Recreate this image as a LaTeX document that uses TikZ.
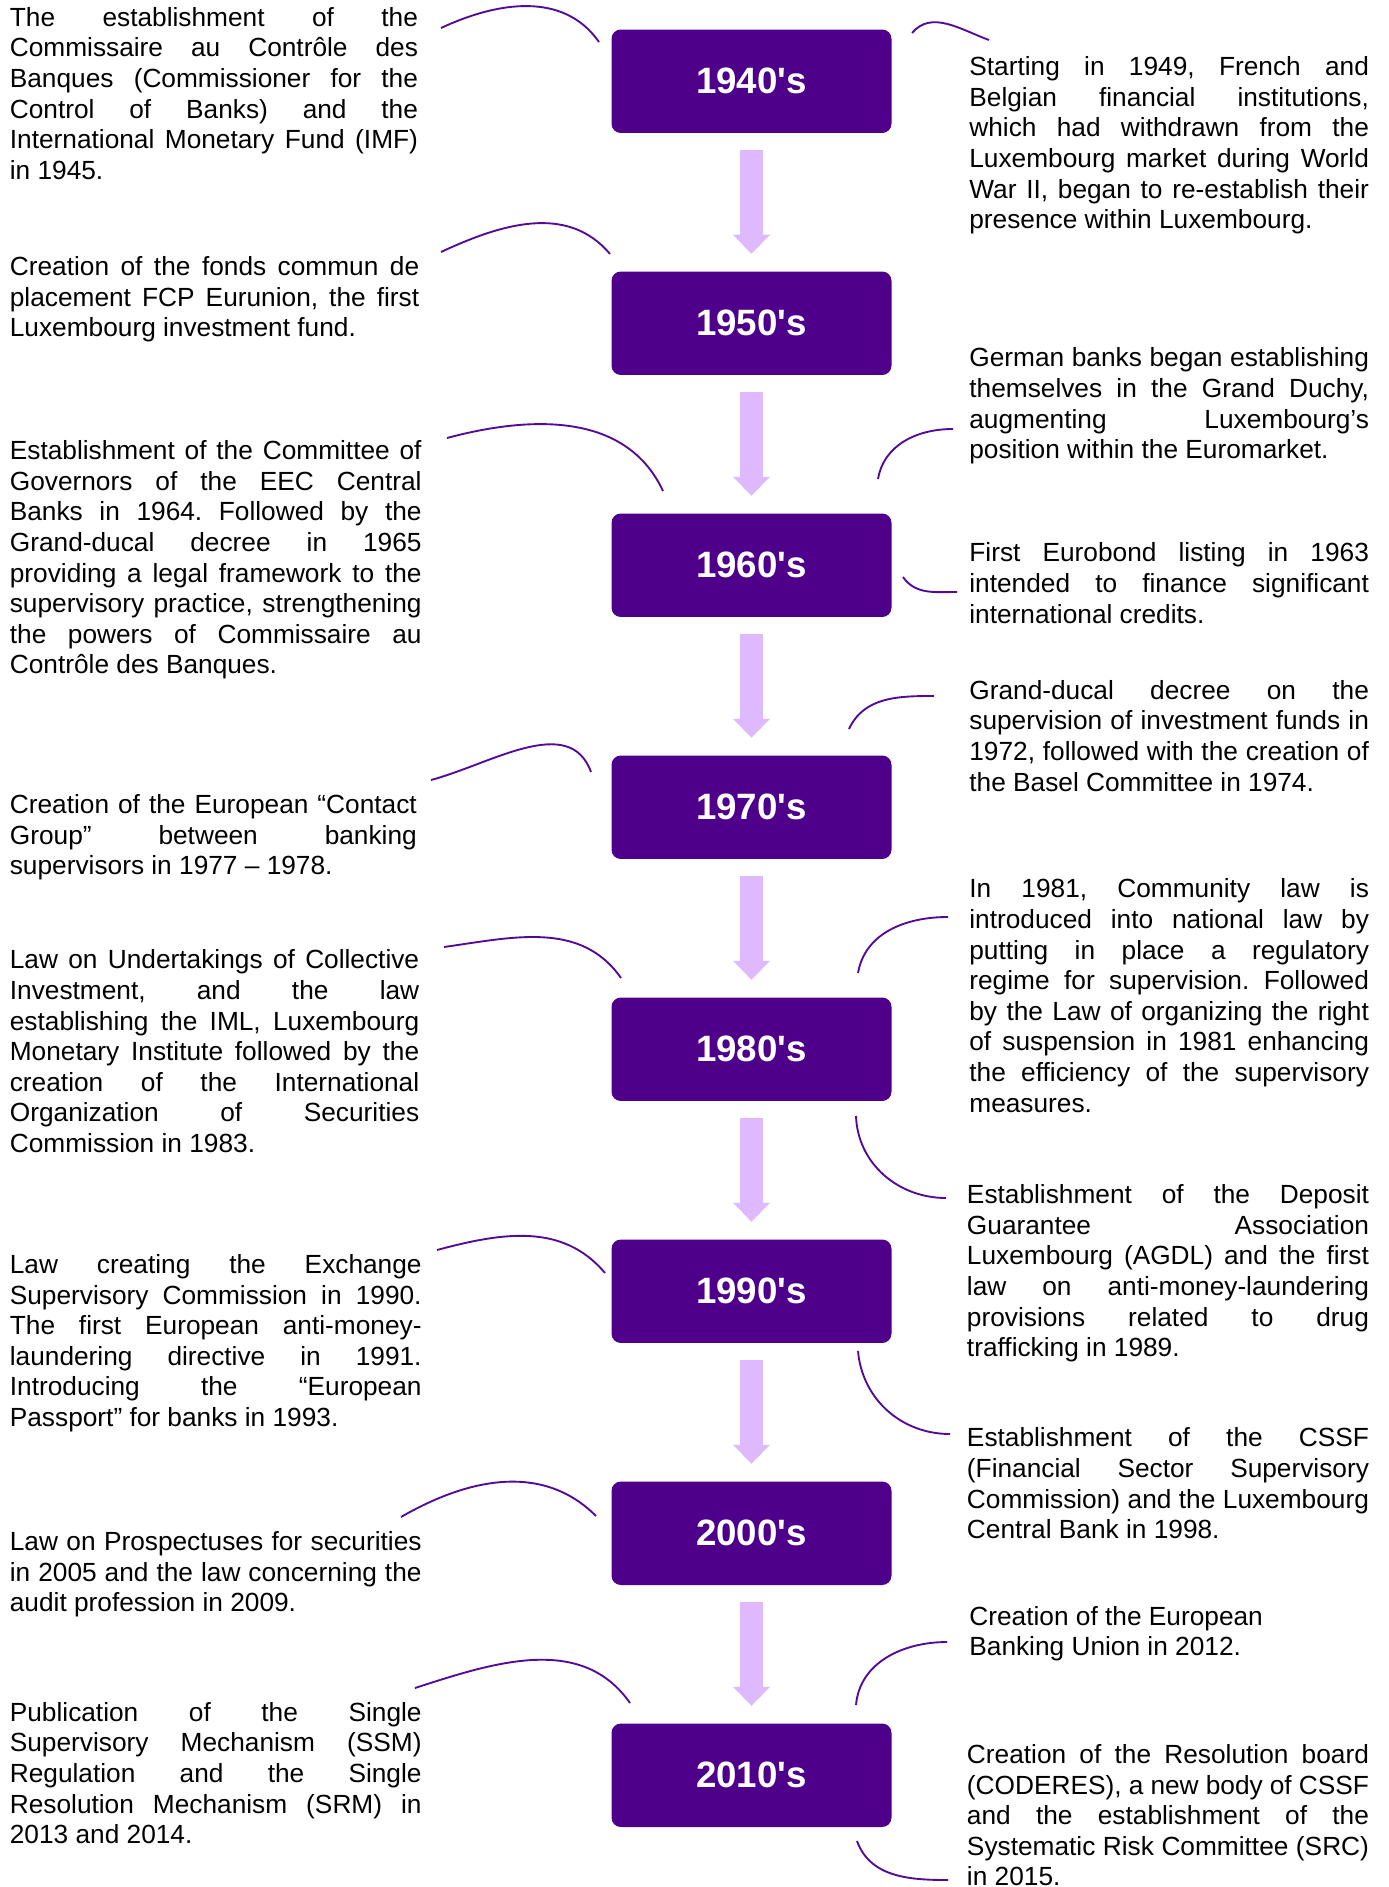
\documentclass[tikz,border=0pt]{standalone}
\usepackage{fontspec}
\setmainfont{Liberation Sans}
\usetikzlibrary{arrows.meta}
\definecolor{boxc}{RGB}{78,0,138}
\definecolor{arrowc}{RGB}{223,185,254}
\definecolor{linec}{RGB}{84,10,150}
\tolerance=10000 \hbadness=10000 \hfuzz=20pt
\hyphenpenalty=10000 \exhyphenpenalty=10000
\frenchspacing
\setlength\parindent{0pt}
\tikzset{
  yearbox/.style={fill=boxc, rounded corners=7pt, minimum width=210pt, minimum height=77.6pt,
    inner sep=0pt, text=white, font=\fontsize{27.5}{30}\selectfont\bfseries},
  txt/.style={anchor=north west, inner sep=0pt, align=justify, font=\fontsize{19.7}{22.95}\selectfont},
  flow/.style={draw=arrowc, line width=17.25pt,
    -{Triangle[width=27.75pt,length=14.25pt,line width=0pt,fill=arrowc]}},
  callout/.style={draw=linec, line width=1.4pt},
}
\begin{document}
\begin{tikzpicture}[x=0.75pt,y=-0.75pt]
\fill[white] (0,0) rectangle (1388,1887);
\useasboundingbox (0,0) rectangle (1388,1887);

% year boxes
\node[yearbox] (y40) at (751.5,81.25)   {1940\textquotesingle s};
\node[yearbox] (y50) at (751.5,323.25)  {1950\textquotesingle s};
\node[yearbox] (y60) at (751.5,565.25)  {1960\textquotesingle s};
\node[yearbox] (y70) at (751.5,807.25)  {1970\textquotesingle s};
\node[yearbox] (y80) at (751.5,1049.25) {1980\textquotesingle s};
\node[yearbox] (y90) at (751.5,1291.25) {1990\textquotesingle s};
\node[yearbox] (y00) at (751.5,1533.25) {2000\textquotesingle s};
\node[yearbox] (y10) at (751.5,1775.25) {2010\textquotesingle s};

% arrows between boxes
\foreach \a/\b in {y40/y50,y50/y60,y60/y70,y70/y80,y80/y90,y90/y00,y00/y10}
  \draw[flow] ([yshift=-12.75pt]\a.south) -- ([yshift=13.125pt]\b.north);

% left texts
\node[txt, text width=306.1pt] (l40) at (9.6,4.6) {\strut The establishment of the\linebreak Commissaire au Contrôle des\linebreak Banques (Commissioner for the\linebreak Control of Banks) and the\linebreak International Monetary Fund (IMF)\linebreak in 1945.};
\node[txt, text width=307pt] (l50) at (9.6,253.8) {\strut Creation of the fonds commun de\linebreak placement FCP Eurunion, the first\linebreak Luxembourg investment fund.};
\node[txt, text width=308.8pt] (l60) at (9.6,438.0) {\strut Establishment of the Committee of\linebreak Governors of the EEC Central\linebreak Banks in 1964. Followed by the\linebreak Grand-ducal decree in 1965\linebreak providing a legal framework to the\linebreak supervisory practice, strengthening\linebreak the powers of Commissaire au\linebreak Contrôle des Banques.};
\node[txt, text width=305.2pt] (l70) at (9.6,791.9) {\strut Creation of the European “Contact\linebreak Group” between banking\linebreak supervisors in 1977 – 1978.};
\node[txt, text width=307pt] (l80) at (9.6,947.2) {\strut Law on Undertakings of Collective\linebreak Investment, and the law\linebreak establishing the IML, Luxembourg\linebreak Monetary Institute followed by the\linebreak creation of the International\linebreak Organization of Securities\linebreak Commission in 1983.};
\node[txt, text width=308.8pt] (l90) at (9.6,1251.8) {\strut Law creating the Exchange\linebreak Supervisory Commission in 1990.\linebreak The first European anti-money-\linebreak laundering directive in 1991.\linebreak Introducing the “European\linebreak Passport” for banks in 1993.};
\node[txt, text width=308.8pt] (l00) at (9.6,1528.7) {\strut Law on Prospectuses for securities\linebreak in 2005 and the law concerning the\linebreak audit profession in 2009.};
\node[txt, text width=308.8pt] (l10) at (9.6,1699.6) {\strut Publication of the Single\linebreak Supervisory Mechanism (SSM)\linebreak Regulation and the Single\linebreak Resolution Mechanism (SRM) in\linebreak 2013 and 2014.};

% right texts
\node[txt, text width=299.7pt] (r1) at (969.1,54.0) {\strut Starting in 1949, French and\linebreak Belgian financial institutions,\linebreak which had withdrawn from the\linebreak Luxembourg market during World\linebreak War II, began to re-establish their\linebreak presence within Luxembourg.};
\node[txt, text width=299.7pt] (r2) at (969.1,345.3) {\strut German banks began establishing\linebreak themselves in the Grand Duchy,\linebreak augmenting Luxembourg’s\linebreak position within the Euromarket.};
\node[txt, text width=299.7pt] (r3) at (969.1,540.3) {\strut First Eurobond listing in 1963\linebreak intended to finance significant\linebreak international credits.};
\node[txt, text width=299.7pt] (r4) at (969.1,677.6) {\strut Grand-ducal decree on the\linebreak supervision of investment funds in\linebreak 1972, followed with the creation of\linebreak the Basel Committee in 1974.};
\node[txt, text width=299.7pt] (r5) at (969.1,876.2) {\strut In 1981, Community law is\linebreak introduced into national law by\linebreak putting in place a regulatory\linebreak regime for supervision. Followed\linebreak by the Law of organizing the right\linebreak of suspension in 1981 enhancing\linebreak the efficiency of the supervisory\linebreak measures.};
\node[txt, text width=301.5pt] (r6) at (966.7,1182.0) {\strut Establishment of the Deposit\linebreak Guarantee Association\linebreak Luxembourg (AGDL) and the first\linebreak law on anti-money-laundering\linebreak provisions related to drug\linebreak trafficking in 1989.};
\node[txt, text width=301.5pt] (r7) at (966.7,1425.1) {\strut Establishment of the CSSF\linebreak (Financial Sector Supervisory\linebreak Commission) and the Luxembourg\linebreak Central Bank in 1998.};
\node[txt, align=left] (r8) at (969.1,1603.3) {\strut Creation of the European\\Banking Union in 2012.};
\node[txt, text width=301.5pt] (r9) at (966.7,1741.7) {\strut Creation of the Resolution board\linebreak (CODERES), a new body of CSSF\linebreak and the establishment of the\linebreak Systematic Risk Committee (SRC)\linebreak in 2015.};

% left callout curves
\draw[callout] (441,28)   to[out=25,in=125] (599,42);
\draw[callout] (441,252)  to[out=25,in=130] (610,254);
\draw[callout] (447,438)  to[out=15,in=115] (663,491);
\draw[callout] (431,780)  to[out=15,in=110] (591,772);
\draw[callout] (444,947)  to[out=8,in=125]  (621,978);
\draw[callout] (437,1250) to[out=15,in=130] (605,1273);
\draw[callout] (401,1517) to[out=30,in=135] (596,1516);
\draw[callout] (415,1688) to[out=18,in=125] (630,1703);

% right callout curves
\draw[callout] (912,33)   to[out=50,in=160]  (989,40);
\draw[callout] (878,479)  to[out=80,in=180]  (953,429);
\draw[callout] (903,577)  to[out=-55,in=180] (957,592);
\draw[callout] (849,729)  to[out=65,in=180]  (934,696);
\draw[callout] (858,973)  to[out=80,in=180]  (948,917);
\draw[callout] (856,1116) to[out=-88,in=180] (946,1198);
\draw[callout] (858,1351) to[out=-85,in=180] (950,1434);
\draw[callout] (856,1705) to[out=85,in=180]  (947,1642);
\draw[callout] (857,1841) to[out=-70,in=180] (948,1880);
\end{tikzpicture}
\end{document}
